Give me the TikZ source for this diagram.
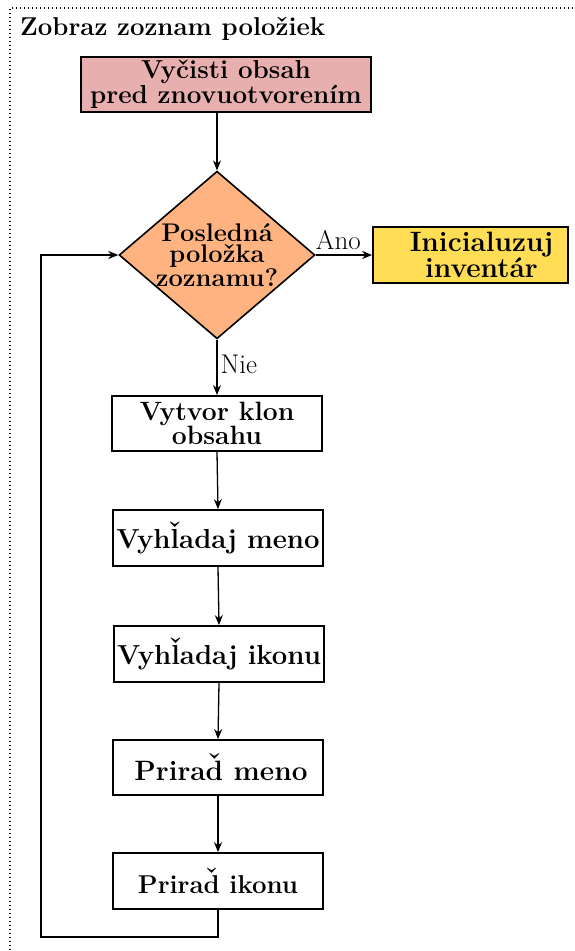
\documentclass[tikz,border=0pt]{standalone}
\usetikzlibrary{shapes.geometric,arrows.meta}
\newcommand\hacekover[1]{{\setbox0\hbox{#1}\rlap{\hbox to\wd0{\hss\raisebox{0.56ex}{ˇ}\hss}}\box0}}
\newcommand\fs[1]{\fontsize{#1}{#1}\selectfont}
\definecolor{pinkfill}{HTML}{E8AFAF}
\definecolor{orangefill}{HTML}{FFB380}
\definecolor{yellowfill}{HTML}{FFDD55}
\tikzset{
  stepbox/.style={draw, line width=1.8pt, inner sep=0pt, align=center,
    font=\bfseries\fs{26}},
  conn/.style={line width=1.3pt, -{Stealth[length=10pt,width=8pt]}},
  lbl/.style={font=\fs{27}, inner sep=0pt},
}
\begin{document}
\begin{tikzpicture}[x=1pt,y=-1pt]
\useasboundingbox (0,0) rectangle (574,951);
\draw[line width=1.2pt, dash pattern=on 1.2pt off 2.8pt] (10,990) -- (10,8) -- (620,8);
\node[anchor=base west, inner sep=0pt, font=\bfseries\fs{25.8}] (title) at (20,35) {Zobraz zoznam položiek};
\node[stepbox, fill=pinkfill, minimum width=290pt, minimum height=55pt, font=\bfseries\fontsize{26}{25}\selectfont] (clr) at (226,84.5) {Vyčisti obsah\\pred znovuotvorením};
\node[shape=diamond, draw, line width=1.6pt, fill=orangefill, aspect=1.169, inner sep=0pt,
  minimum width=194pt, minimum height=166pt, align=center,
  font=\bfseries\fontsize{25.5}{21}\selectfont] (dia) at (217,255) {Posledná\\položka\\zoznamu?};
\node[stepbox, fill=yellowfill, minimum width=195pt, minimum height=56pt, font=\bfseries\fontsize{28}{22}\selectfont] (init) at (470.5,255) {\hspace*{22pt}Inicialuzuj\\\hspace*{22pt}inventár};
\node[stepbox, minimum width=210pt, minimum height=55pt, font=\bfseries\fontsize{26.5}{23}\selectfont] (clone) at (217,423.5) {Vytvor klon\\obsahu};
\node[stepbox, minimum width=210pt, minimum height=56pt, font=\bfseries\fs{27.5}] (fname) at (218,538) {Vyh\hacekover{l}adaj meno};
\node[stepbox, minimum width=210pt, minimum height=56pt, font=\bfseries\fs{27.5}] (ficon) at (219,654) {Vyh\hacekover{l}adaj ikonu};
\node[stepbox, minimum width=210pt, minimum height=55pt, font=\bfseries\fs{28}] (aname) at (218,767.5) {\hspace*{6pt}Prira\hacekover{d} meno};
\node[stepbox, minimum width=210pt, minimum height=56pt, font=\bfseries\fs{25.8}] (aicon) at (218,881) {Prira\hacekover{d} ikonu};
\coordinate (loopc) at (41,937);
\draw[conn] (dia.north |- clr.south) -- (dia.north);
\draw[conn] (dia.east) -- (init.west) node[lbl, pos=0.4, above=5pt] (ano) {Ano};
\draw[conn] (dia.south) -- (clone.north) node[lbl, pos=0.45, right=3pt] (nie) {Nie};
\draw[conn] (clone.south) -- (fname.north);
\draw[conn] (fname.south) -- (ficon.north);
\draw[conn] (ficon.south) -- (aname.north);
\draw[conn] (aname.south) -- (aicon.north);
\draw[conn] (aicon.south) |- (loopc) |- (dia.west);
\end{tikzpicture}
\end{document}
